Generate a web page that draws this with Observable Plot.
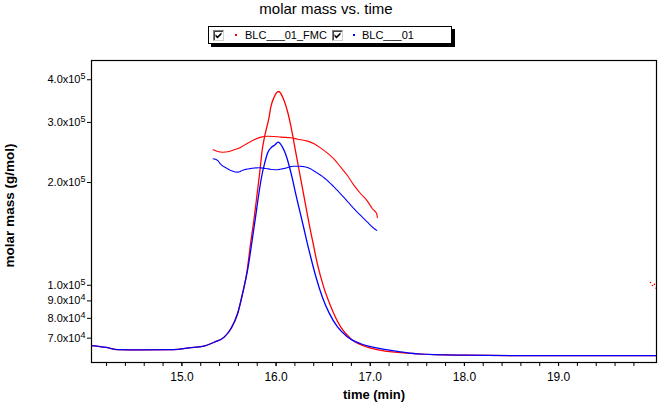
<!DOCTYPE html>
<html>
<head>
<meta charset="utf-8">
<script src="https://cdn.jsdelivr.net/npm/d3@7"></script>
<script src="https://cdn.jsdelivr.net/npm/@observablehq/plot@0.6"></script>
<style>
  body { margin: 0; background: #fff; }
  #wrap { position: relative; width: 661px; height: 402px; font-family: "Liberation Sans", Arial, sans-serif; }
  #title { position: absolute; left: 206px; width: 240px; top: 0px; text-align: center; font-size: 15px; line-height: 18px; color: #000; }
  #legend { position: absolute; left: 208px; top: 26px; width: 242px; height: 16px; border: 1px solid #000; background: #fff;
            box-shadow: 3px 3px 0 #000; display: flex; align-items: center; font-size: 11px; color: #000; }
  .cb { width: 9px; height: 9px; border-top: 1px solid #808080; border-left: 1px solid #808080; border-right: 1px solid #d4d0c8; border-bottom: 1px solid #d4d0c8; box-shadow: inset 1px 1px 0 #404040; background: #fff; display: inline-block; position: relative; }
  .cb svg { position: absolute; left: 0; top: 0; }
  .dot { width: 2px; height: 2px; display: inline-block; }
  .item { display: flex; align-items: center; }
</style>
</head>
<body>
<div id="wrap">
  <div id="title"></div>
  <div id="legend"></div>
</div>
<script>
// ---- data ----
const titleText = "molar mass vs. time";
const seriesNames = ["BLC___01_FMC", "BLC___01"];
const seriesColors = ["#ff0000", "#0000ff"];

const xLabelTicks = [15, 16, 17, 18, 19];
const xMinorTicks = d3.range(71, 100).map(i => i / 5);
const yTicks = [70000, 80000, 90000, 100000, 200000, 300000, 400000];

// detector trace, series 1 (red)
const redSignalTime = [14.045, 14.194, 14.318, 14.565, 14.915, 15.077, 15.22, 15.343, 15.449, 15.52, 15.591, 15.644, 15.693, 15.729, 15.764, 15.799, 15.825, 15.852, 15.881, 15.926, 15.944, 15.979, 16.026, 16.085, 16.128, 16.156, 16.199, 16.245, 16.298, 16.351, 16.387, 16.44, 16.51, 16.581, 16.687, 16.793, 16.97, 17.183, 17.501, 18.013, 18.5, 19.0, 19.5, 20.04];
const redSignalValue = [66600, 65750, 64800, 64700, 64800, 65600, 66200, 68100, 70500, 74600, 82500, 94500, 110500, 132300, 154800, 185400, 212100, 248200, 274700, 310800, 332500, 355600, 369600, 347800, 318000, 294000, 253900, 216900, 181200, 151400, 135300, 115100, 97900, 86700, 75400, 69700, 65900, 64000, 63000, 62400, 62200, 62200, 62200, 62200];

// detector trace, series 2 (blue)
const blueSignalTime = [14.045, 14.194, 14.318, 14.565, 14.915, 15.077, 15.22, 15.343, 15.449, 15.52, 15.591, 15.644, 15.703, 15.746, 15.782, 15.817, 15.849, 15.881, 15.912, 15.95, 15.987, 16.022, 16.068, 16.103, 16.138, 16.175, 16.21, 16.255, 16.298, 16.337, 16.369, 16.422, 16.493, 16.563, 16.652, 16.758, 16.899, 17.111, 17.289, 17.501, 18.013, 18.5, 19.0, 19.5, 20.04];
const blueSignalValue = [66600, 65750, 64800, 64700, 64800, 65600, 66200, 68100, 70500, 74600, 82500, 94500, 113000, 135300, 158300, 185400, 209700, 229000, 244900, 253300, 257600, 262600, 253900, 241600, 224400, 204200, 184500, 163500, 145700, 130900, 120600, 106100, 92100, 83000, 75500, 70600, 67400, 65200, 64000, 63000, 62400, 62200, 62200, 62200, 62200];

// molar mass, series 1 (red)
const redMassTime = [15.332, 15.379, 15.432, 15.502, 15.555, 15.626, 15.697, 15.767, 15.838, 15.909, 15.979, 16.05, 16.156, 16.228, 16.334, 16.404, 16.475, 16.546, 16.616, 16.687, 16.758, 16.828, 16.899, 16.97, 17.023, 17.069, 17.076];
const redMassValue = [249500, 246600, 245400, 246600, 249500, 253900, 260800, 266900, 271600, 273400, 272900, 271600, 270500, 267900, 264400, 259700, 252200, 243800, 234100, 221800, 209700, 196100, 185400, 176400, 167600, 162000, 157700];

// molar mass, series 2 (blue)
const blueMassTime = [15.332, 15.379, 15.414, 15.467, 15.52, 15.591, 15.661, 15.732, 15.82, 15.909, 15.997, 16.085, 16.192, 16.281, 16.351, 16.422, 16.493, 16.563, 16.634, 16.705, 16.775, 16.846, 16.917, 16.97, 17.023, 17.069];
const blueMassValue = [234700, 232100, 225900, 220900, 216900, 214500, 218000, 219900, 220900, 219400, 218000, 219900, 223300, 222900, 220300, 214500, 208300, 200500, 191800, 182800, 174000, 165500, 158300, 153100, 148100, 144800];

// stray molar-mass points of series 1 at the right edge
const redStrayTime = [19.976, 19.997, 20.018, 20.036];
const redStrayValue = [101900, 99900, 100600, 98000];

// ---- build ----
const rows = (t, v) => t.map((x, i) => ({t: x, v: v[i]}));

document.getElementById("title").textContent = titleText;

const legend = document.getElementById("legend");
const checkSvg = '<svg width="9" height="9" viewBox="0 0 9 9"><path d="M1.5 3.2 L3.5 5.2 L7.5 1.2 L7.5 3.6 L3.5 7.6 L1.5 5.6 Z" fill="#000"/></svg>';
const gaps = [{pad: 4, dot: 11, txt: 8}, {pad: 5, dot: 10, txt: 7}];
seriesNames.forEach((name, i) => {
  const item = document.createElement("div");
  item.className = "item";
  item.style.marginLeft = gaps[i].pad + "px";
  const cb = document.createElement("span");
  cb.className = "cb";
  cb.innerHTML = checkSvg;
  const dot = document.createElement("span");
  dot.className = "dot";
  dot.style.background = seriesColors[i];
  dot.style.marginLeft = gaps[i].dot + "px";
  const txt = document.createElement("span");
  txt.textContent = name;
  txt.style.marginLeft = gaps[i].txt + "px";
  item.append(cb, dot, txt);
  legend.append(item);
});

const fmtY = d => {
  const e = Math.floor(Math.log10(d) + 1e-9);
  return (d / 10 ** e).toFixed(1) + "x10^" + e;
};

const chart = Plot.plot({
  width: 661,
  height: 402,
  marginLeft: 91,
  marginRight: 5,
  marginTop: 60,
  marginBottom: 40,
  style: {fontFamily: "'Liberation Sans', Arial, sans-serif", fontSize: "12px", color: "#000", background: "transparent", overflow: "visible"},
  x: {domain: [14.04, 20.04]},
  y: {type: "log", domain: [59400, 455500]},
  marks: [
    Plot.line(rows(redSignalTime, redSignalValue), {x: "t", y: "v", stroke: seriesColors[0], strokeWidth: 1.3, curve: "monotone-x"}),
    Plot.line(rows(blueSignalTime, blueSignalValue), {x: "t", y: "v", stroke: seriesColors[1], strokeWidth: 1.3, curve: "monotone-x"}),
    Plot.line(rows(redMassTime, redMassValue), {x: "t", y: "v", stroke: seriesColors[0], strokeWidth: 1.1, curve: "monotone-x"}),
    Plot.line(rows(blueMassTime, blueMassValue), {x: "t", y: "v", stroke: seriesColors[1], strokeWidth: 1.1, strokeDasharray: "1.6,0.7", curve: "monotone-x"}),
    Plot.dot(rows(redStrayTime, redStrayValue), {x: "t", y: "v", r: 0.8, fill: seriesColors[0], stroke: null}),
    Plot.frame({stroke: "#000", strokeWidth: 1.2}),
    Plot.axisX({ticks: xMinorTicks, tickSize: 4, tickFormat: () => "", label: null}),
    Plot.axisX({ticks: xLabelTicks, tickSize: 4, tickPadding: 6, tickFormat: d => d.toFixed(1),
      label: "time (min)", labelAnchor: "center", labelArrow: "none", labelOffset: 36}),
    Plot.axisY({ticks: yTicks, tickSize: 4, tickPadding: 2, tickFormat: fmtY, fontSize: 11,
      label: "molar mass (g/mol)", labelAnchor: "center", labelArrow: "none", labelOffset: 87})
  ]
});

document.getElementById("wrap").prepend(chart);
chart.style.position = "absolute";
chart.style.left = "0";
chart.style.top = "0";

const svg = d3.select(chart);
svg.selectAll('g[aria-label="y-axis label"] text')
  .attr("font-weight", "bold").attr("font-size", 13.5).attr("dx", "6");
svg.selectAll('g[aria-label="x-axis label"] text')
  .attr("font-weight", "bold").attr("font-size", 13);
svg.selectAll('g[aria-label="y-axis tick label"] text').each(function () {
  const s = this.textContent;
  if (!s.includes("^")) return;
  const [m, e] = s.split("^");
  const t = d3.select(this);
  t.text(m);
  t.append("tspan").attr("dy", "-0.45em").attr("font-size", 9).text(e);
});
</script>
</body>
</html>
